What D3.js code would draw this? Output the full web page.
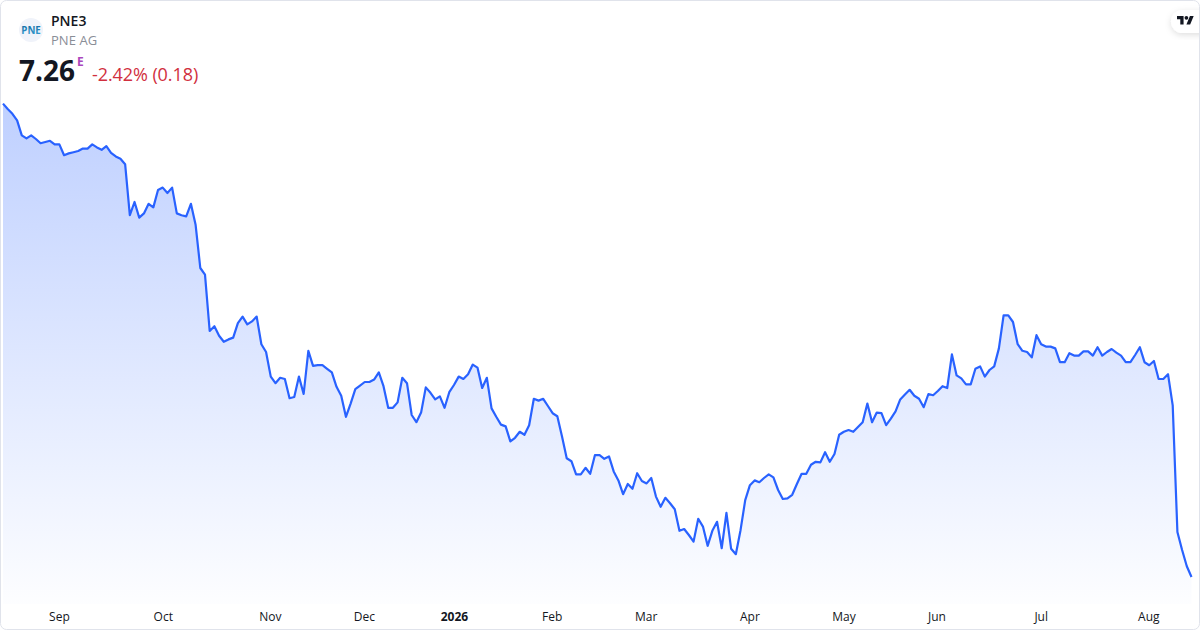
<!DOCTYPE html>
<html><head><meta charset="utf-8">
<script src="https://cdn.jsdelivr.net/npm/d3@7"></script>
<style>
html,body{margin:0;padding:0;background:#fff;width:1200px;height:630px;overflow:hidden}
svg{display:block;font-family:"Open Sans",sans-serif}
.tick text{font-family:"Open Sans",sans-serif}
</style></head><body>
<svg id="c" width="1200" height="630"></svg>
<script>
const symbol = "PNE3";
const companyName = "PNE AG";
const lastPrice = "7.26";
const changeText = "-2.42% (0.18)";
const tickIndex = [11.9,34.0,56.8,76.8,96.0,116.8,136.8,158.9,178.9,198.7,220.9,243.8];
const tickLabels = ["Sep","Oct","Nov","Dec","2026","Feb","Mar","Apr","May","Jun","Jul","Aug"];
const prices = [
15.15,15.06,14.98,14.87,14.62,14.57,14.62,14.56,14.49,14.51,14.53,14.47,14.47,14.29,14.32,14.34,14.36,14.40,14.40,14.47,14.42,14.38,14.44,14.33,14.27,14.23,14.14,
13.29,13.51,13.25,13.32,13.48,13.42,13.71,13.75,13.66,13.75,13.32,13.29,13.27,13.48,13.13,12.41,12.30,
11.36,11.44,11.28,11.18,11.22,11.25,11.49,11.60,11.47,11.52,11.60,11.14,11.01,10.60,10.49,10.58,10.56,10.24,10.26,10.60,
10.31,11.03,10.78,10.79,10.79,10.73,10.67,10.43,10.28,9.93,10.15,10.39,10.45,10.51,10.51,10.55,10.67,10.44,10.08,10.08,10.17,10.58,10.49,9.96,9.84,10.00,10.42,10.33,10.22,10.27,10.08,10.34,10.46,10.60,10.56,10.64,10.80,10.75,10.41,10.58,10.07,9.93,9.80,9.77,9.52,9.58,9.68,9.63,9.79,10.23,10.20,10.23,10.11,9.99,9.94,
9.60,9.24,9.19,8.97,8.97,9.08,8.98,9.29,9.29,9.23,9.27,9.02,8.87,8.64,8.81,8.73,8.99,8.86,8.82,8.91,8.60,8.43,8.58,8.49,8.39,8.03,8.06,7.96,7.85,8.23,8.10,7.78,8.03,8.18,7.74,8.33,7.73,7.64,8.04,8.54,8.79,8.87,8.84,8.91,8.97,8.92,8.71,8.56,8.57,8.63,8.81,8.98,8.98,9.13,9.18,9.17,9.34,9.18,9.31,
9.63,9.68,9.71,9.68,9.76,9.84,10.15,9.84,10.00,9.99,9.79,9.90,10.02,10.22,10.30,10.38,10.28,10.23,10.09,10.31,10.29,10.36,10.44,10.41,10.97,10.62,10.57,10.47,10.47,10.73,10.77,10.60,10.71,10.77,11.07,11.62,11.62,11.51,11.14,11.03,11.01,10.92,11.29,11.14,11.10,11.10,11.07,10.84,10.84,10.99,10.95,10.95,11.02,11.02,10.95,11.09,10.95,11.01,11.06,11.00,10.95,10.84,10.84,10.96,11.09,10.84,10.79,10.86,10.56,10.56,10.64,10.12,8.01,7.71,7.44,7.26
];

const svg = d3.select("#c");
const x = d3.scaleLinear().domain([0, prices.length - 1]).range([3, 1191.5]);
const y = d3.scaleLinear().domain([7.26, 15.16]).range([577, 103]);
const baseY = 604;

const defs = svg.append("defs");
const g = defs.append("linearGradient").attr("id","fill").attr("gradientUnits","userSpaceOnUse")
  .attr("x1",0).attr("x2",0).attr("y1",103).attr("y2",baseY);
g.append("stop").attr("offset",0).attr("stop-color","#2962ff").attr("stop-opacity",0.3);
g.append("stop").attr("offset",1).attr("stop-color","#2962ff").attr("stop-opacity",0.01);
const lg = defs.append("linearGradient").attr("id","logo").attr("x1",0).attr("x2",0).attr("y1",0).attr("y2",1);
lg.append("stop").attr("offset",0).attr("stop-color","#0b5f99");
lg.append("stop").attr("offset",1).attr("stop-color","#3aa5d8");
const sh = defs.append("filter").attr("id","sh").attr("x","-30%").attr("y","-30%").attr("width","160%").attr("height","160%");
sh.append("feDropShadow").attr("dx",0).attr("dy",2).attr("stdDeviation",3).attr("flood-color","#000").attr("flood-opacity",0.13);
const clip = defs.append("clipPath").attr("id","card");
clip.append("rect").attr("x",1).attr("y",1).attr("width",1198).attr("height",628).attr("rx",5);

const area = d3.area().x((d,i)=>x(i)).y0(baseY).y1(d=>y(d));
const line = d3.line().x((d,i)=>x(i)).y(d=>y(d));
svg.append("path").datum(prices).attr("d",area).attr("fill","url(#fill)");
svg.append("path").datum(prices).attr("d",line).attr("fill","none").attr("stroke","#2962ff").attr("stroke-width",2.2).attr("stroke-linejoin","round");

const axis = d3.axisBottom(x).tickValues(tickIndex).tickSize(0).tickPadding(0).tickFormat((d,i)=>tickLabels[i]);
const ax = svg.append("g").attr("transform","translate(0,610)").call(axis);
ax.select(".domain").remove();
ax.selectAll("text").attr("font-size",12).attr("fill","#131722").attr("dy","0.71em")
  .attr("font-weight",(d,i)=>tickLabels[i]==="2026"?700:400)
  .attr("y",2);

// card frame
svg.append("rect").attr("x",0.5).attr("y",0.5).attr("width",1199).attr("height",629).attr("rx",6).attr("fill","none").attr("stroke","#e0e3eb");

// header
svg.append("circle").attr("cx",31).attr("cy",30).attr("r",12).attr("fill","#f0f3fa");
svg.append("text").attr("x",21.3).attr("y",34).attr("font-size",11).attr("font-weight",700).attr("fill","url(#logo)").attr("font-family","Open Sans").attr("textLength",19.5).attr("lengthAdjust","spacingAndGlyphs").text("PNE");
svg.append("text").attr("x",51).attr("y",26).attr("font-size",14).attr("font-weight",600).attr("fill","#131722").text(symbol);
svg.append("text").attr("x",51).attr("y",45).attr("font-size",13).attr("fill","#8a8e97").attr("letter-spacing",0.05).text(companyName);
svg.append("text").attr("x",19).attr("y",81).attr("font-size",28).attr("font-weight",700).attr("fill","#131722").text(lastPrice);
svg.append("text").attr("x",77).attr("y",66).attr("font-size",12).attr("font-weight",700).attr("fill","#ab47bc").text("E");
svg.append("text").attr("x",92).attr("y",81).attr("font-size",18).attr("fill","#d12f3e").attr("letter-spacing",-0.08).text(changeText);

// TradingView badge
const badge = svg.append("g").attr("clip-path","url(#card)");
badge.append("rect").attr("x",1171).attr("y",10).attr("width",50).attr("height",23).attr("rx",11.5).attr("fill","#fff").attr("filter","url(#sh)");
badge.append("path").attr("transform","translate(1177,14.1) scale(0.47)")
  .attr("d","M14 22H7V11H0V4h14v18ZM28 22h-8l7.5-18h8L28 22ZM20 4a4 4 0 1 1 0 8 4 4 0 0 1 0-8Z").attr("fill","#131722");
</script>
</body></html>
